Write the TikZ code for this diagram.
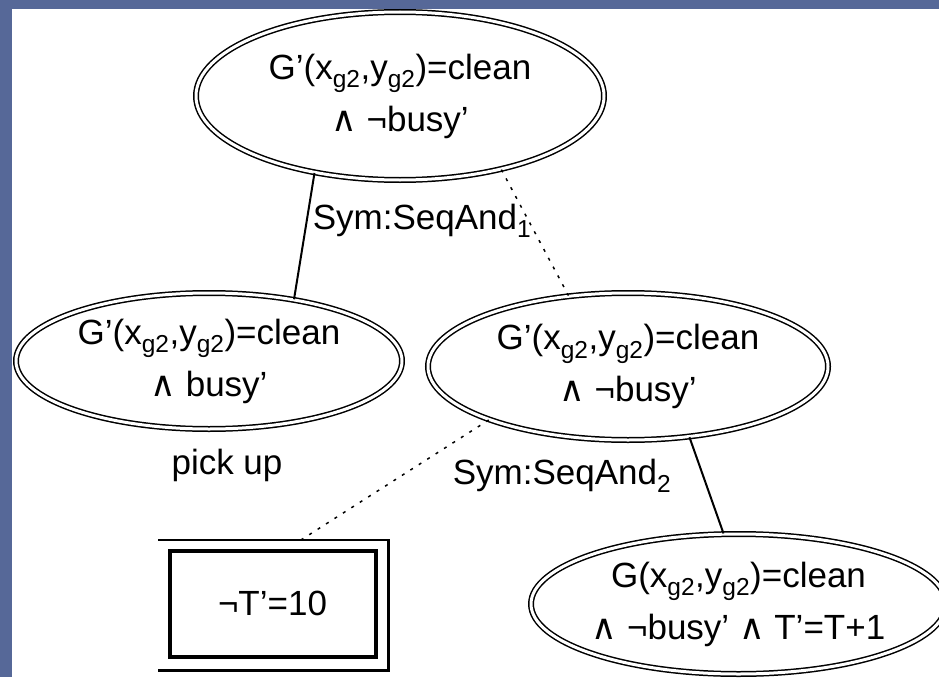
\documentclass[tikz,border=0pt]{standalone}
\usepackage{fontspec}
\setmainfont{Liberation Sans}
\newfontfamily\symf{DejaVu Sans}
\usetikzlibrary{shapes.geometric,calc}
\definecolor{bgblue}{RGB}{86,104,152}
\newcommand{\myand}{{\symf ∧}}
\begin{document}
\begin{tikzpicture}[x=1pt,y=-1pt,
  every node/.style={font=\fontsize{35}{52}\selectfont},
  state/.style={ellipse, draw, line width=1.5pt, double, double distance=3pt,
    inner sep=0pt, align=center},
  rulebox/.style={draw, line width=4pt, inner sep=0pt,
    minimum width=206pt, minimum height=106.5pt},
  outerframe/.style={line width=2.5pt},
  conn/.style={line width=2pt},
  dotconn/.style={line width=1.5pt, dash pattern=on 3pt off 7pt},
  lbl/.style={inner sep=0pt}]
\useasboundingbox (0,0) rectangle (939,677);
\fill[bgblue] (0,0) rectangle (939,677);
\fill[white] (12,9) rectangle (939,677);

\node[state, minimum width=408pt, minimum height=168pt] (top) at (400,96)
  {G'(x\textsubscript{g2},y\textsubscript{g2})=clean\\\myand\ ¬busy'};
\node[state, minimum width=386pt, minimum height=136pt] (left) at (209,361)
  {G'(x\textsubscript{g2},y\textsubscript{g2})=clean\\\myand\ busy'};
\node[state, minimum width=400pt, minimum height=147pt] (mid) at (628,366.5)
  {G'(x\textsubscript{g2},y\textsubscript{g2})=clean\\\myand\ ¬busy'};
\node[state, minimum width=397pt, minimum height=140pt] (br) at (738.5,604)
  {G(x\textsubscript{g2},y\textsubscript{g2})=clean\\\myand\ ¬busy' \myand\ T'=T+1};
\node[rulebox] (box) at (272.5,603.75) {¬T'=10};
\coordinate (otl) at ([shift={(-9.5pt,8.5pt)}]box.north west);
\coordinate (obr) at ([shift={(11pt,-11.5pt)}]box.south east);
\draw[outerframe] (otl) -- (otl -| obr) -- (obr) -- (obr -| otl);

\node[lbl] (sa1) at (422,221) {Sym:SeqAnd\textsubscript{1}};
\node[lbl] (sa2) at (562,476) {Sym:SeqAnd\textsubscript{2}};
\node[lbl] (pick) at (227,465) {pick up};

\draw[conn] (top.222) -- (left.36);
\draw[dotconn] (top.324) -- (mid.130);
\draw[dotconn] (mid.201) -- ($(otl)!0.62!(otl -| obr)$);
\draw[conn] (mid.311) -- (br.102);
\end{tikzpicture}
\end{document}
